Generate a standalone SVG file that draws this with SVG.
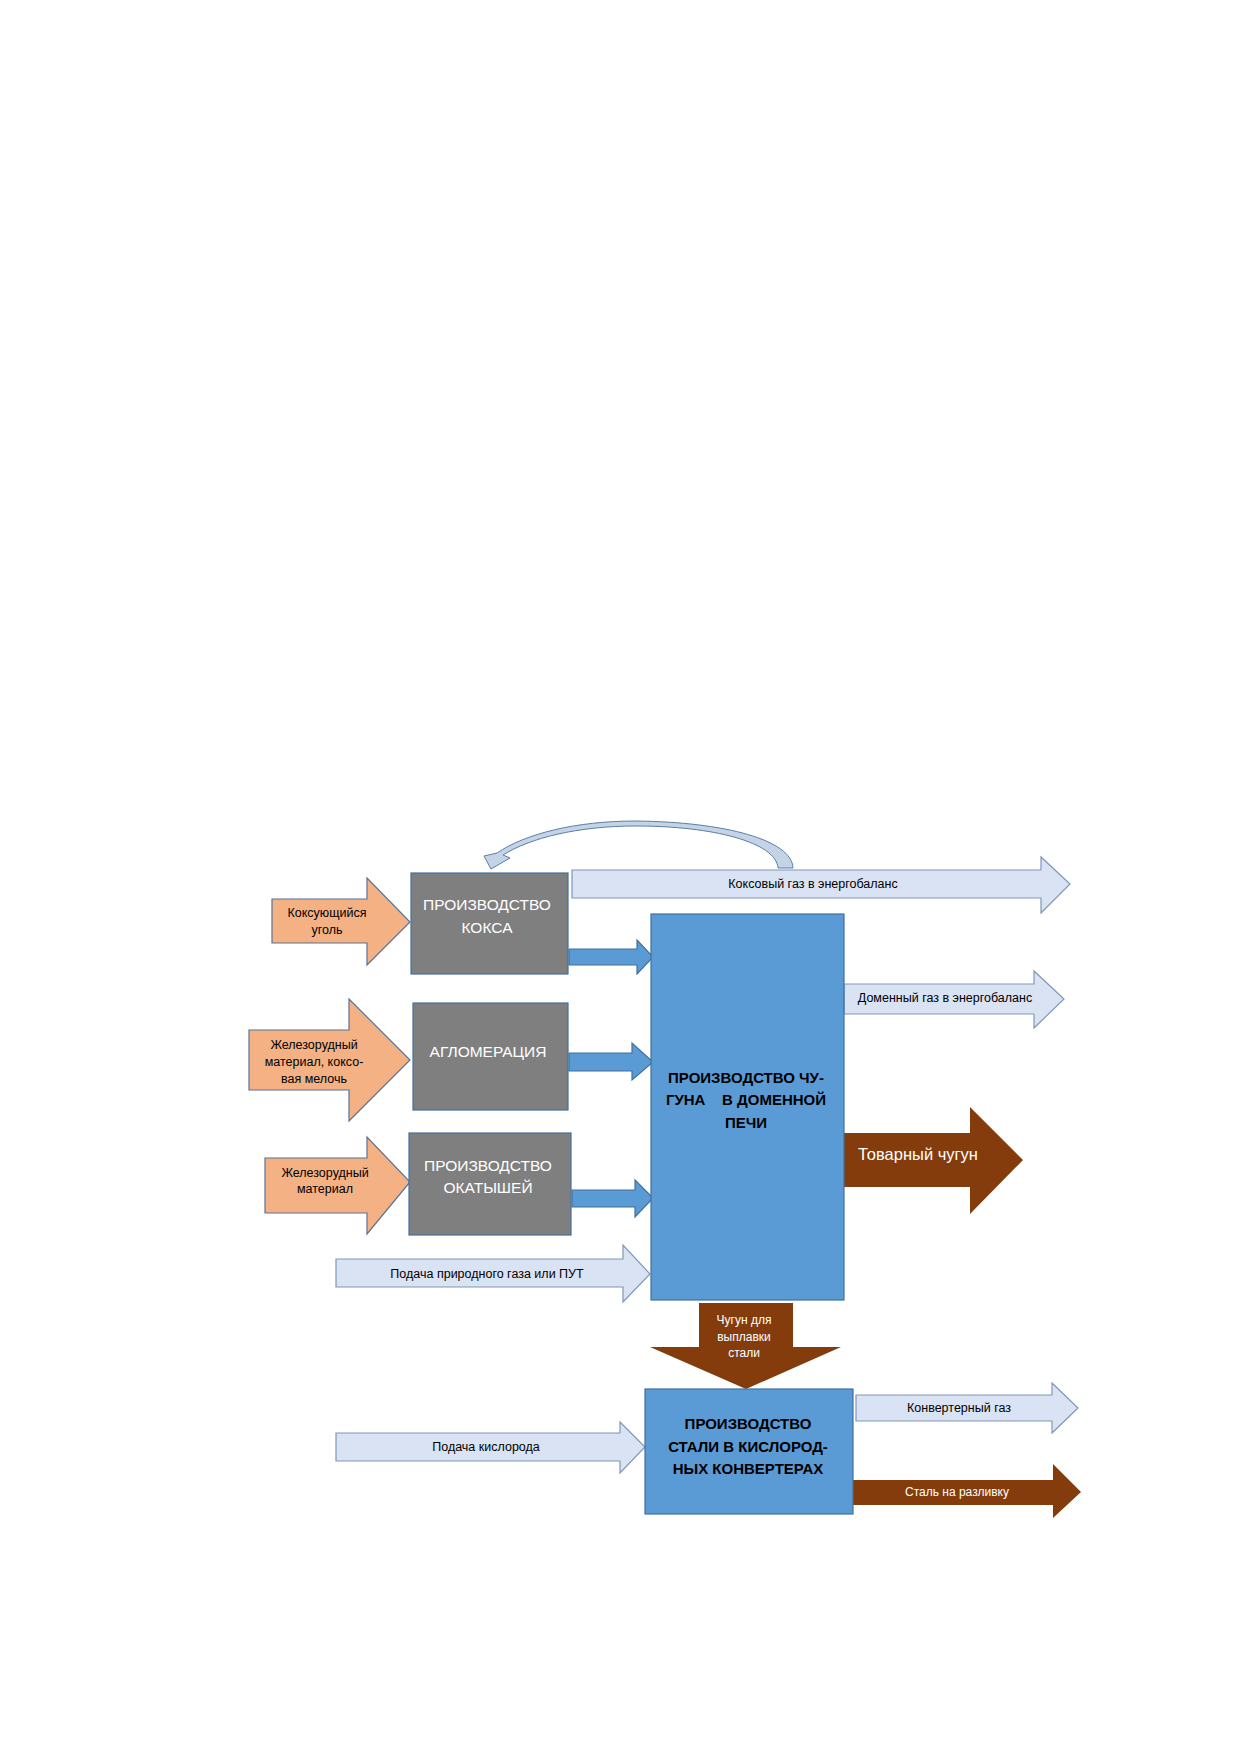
<svg xmlns="http://www.w3.org/2000/svg" width="1240" height="1754" viewBox="0 0 1240 1754">
<style>
text{font-family:"Liberation Sans",Arial,sans-serif;text-anchor:middle;dominant-baseline:central}
.org{fill:#F4B183;stroke:#5B7396;stroke-width:1.2}
.gry{fill:#7F7F7F;stroke:#41719C;stroke-width:1.2}
.blu{fill:#5B9BD5;stroke:#41719C;stroke-width:1.2}
.lb{fill:#DAE3F3;stroke:#7F97B8;stroke-width:1.2}
.brn{fill:#843C0C;stroke:none}
.sm{font-size:12.5px;fill:#000}
.smw{font-size:12px;fill:#fff}
.gt{font-size:15.5px;fill:#fff}
.bt{font-size:15px;font-weight:bold;fill:#000}
</style>
<rect width="1240" height="1754" fill="#fff"/>
<g id="connectors">
<g id="curve">
<path d="M793,868 C792,840 725,822 636,821 C575,821 525,834 497,853 L484,856 L491,869 L510,858 L503,855 C530,838 578,826 636,826 C712,826 776,842 778,868 Z" fill="#C5D3E6" stroke="#5B7FA6" stroke-width="1"/>
</g>
<g id="a-coal"><polygon class="org" points="272,899 367,899 367,878 410,922 367,965 367,943 272,943"/></g>
<g id="a-ore1"><polygon class="org" points="249,1030 349,1030 349,999 410,1060 349,1121 349,1090 249,1090"/></g>
<g id="a-ore2"><polygon class="org" points="265,1158 367,1158 367,1137 410,1182 367,1234 367,1213 265,1213"/></g>
<g id="b1"><polygon class="blu" points="569,949 637,949 637,940 653,957 637,974 637,965 569,965"/></g>
<g id="b2"><polygon class="blu" points="569,1053 632,1053 632,1043 653,1062 632,1080 632,1071 569,1071"/></g>
<g id="b3"><polygon class="blu" points="572,1190 635,1190 635,1180 653,1198 635,1217 635,1207 572,1207"/></g>
<g id="a-cokegas"><polygon class="lb" points="572,870 1041,870 1041,857 1070,884 1041,913 1041,898 572,898"/></g>
<g id="a-bfgas"><polygon class="lb" points="844,984 1034,984 1034,971 1064,999 1034,1028 1034,1014 844,1014"/></g>
<g id="a-pig"><polygon class="brn" points="843,1133 970,1133 970,1107 1023,1160 970,1214 970,1187 843,1187"/></g>
<g id="a-natgas"><polygon class="lb" points="336,1259 623,1259 623,1245 650,1274 623,1302 623,1287 336,1287"/></g>
<g id="a-down"><polygon class="brn" points="699,1303 793,1303 793,1347 841,1347 746,1389 650,1347 699,1347"/></g>
<g id="a-oxy"><polygon class="lb" points="336,1433 620,1433 620,1422 645,1447 620,1473 620,1461 336,1461"/></g>
<g id="a-convgas"><polygon class="lb" points="856,1395 1052,1395 1052,1383 1078,1408 1052,1433 1052,1421 856,1421"/></g>
<g id="a-steel"><polygon class="brn" points="852,1480 1053,1480 1053,1464 1081,1492 1053,1518 1053,1505 852,1505"/></g>
<text class="sm" x="813" y="884">Коксовый газ в энергобаланс</text>
<text class="sm" x="945" y="998">Доменный газ в энергобаланс</text>
<text x="918" y="1154" style="font-size:16.5px;fill:#fff">Товарный чугун</text>
<text class="sm" x="487" y="1274">Подача природного газа или ПУТ</text>
<text class="smw" x="744" y="1320">Чугун для</text>
<text class="smw" x="744" y="1337">выплавки</text>
<text class="smw" x="744" y="1353">стали</text>
<text class="sm" x="486" y="1447">Подача кислорода</text>
<text class="sm" x="959" y="1408">Конвертерный газ</text>
<text class="smw" x="957" y="1492">Сталь на разливку</text>
<text class="sm" x="327" y="913">Коксующийся</text>
<text class="sm" x="327" y="930">уголь</text>
<text class="sm" x="314" y="1045">Железорудный</text>
<text class="sm" x="314" y="1062">материал, коксо-</text>
<text class="sm" x="314" y="1079">вая мелочь</text>
<text class="sm" x="325" y="1173">Железорудный</text>
<text class="sm" x="325" y="1189">материал</text>
</g>
<g id="n-coke">
<rect class="gry" x="411" y="873" width="157" height="101"/>
<text class="gt" x="487" y="904">ПРОИЗВОДСТВО</text>
<text class="gt" x="487" y="927">КОКСА</text>
</g>
<g id="n-aglo">
<rect class="gry" x="413" y="1003" width="155" height="107"/>
<text class="gt" x="488" y="1051">АГЛОМЕРАЦИЯ</text>
</g>
<g id="n-pellets">
<rect class="gry" x="409" y="1133" width="162" height="102"/>
<text class="gt" x="488" y="1165">ПРОИЗВОДСТВО</text>
<text class="gt" x="488" y="1187">ОКАТЫШЕЙ</text>
</g>
<g id="n-bf">
<rect class="blu" x="651" y="914" width="193" height="386"/>
<text class="bt" x="746" y="1077">ПРОИЗВОДСТВО ЧУ-</text>
<text class="bt" x="746" y="1099" xml:space="preserve">ГУНА    В ДОМЕННОЙ</text>
<text class="bt" x="746" y="1122">ПЕЧИ</text>
</g>
<g id="n-bof">
<rect class="blu" x="645" y="1389" width="208" height="125"/>
<text class="bt" x="748" y="1423">ПРОИЗВОДСТВО</text>
<text class="bt" x="748" y="1446">СТАЛИ В КИСЛОРОД-</text>
<text class="bt" x="748" y="1468">НЫХ КОНВЕРТЕРАХ</text>
</g>
</svg>
